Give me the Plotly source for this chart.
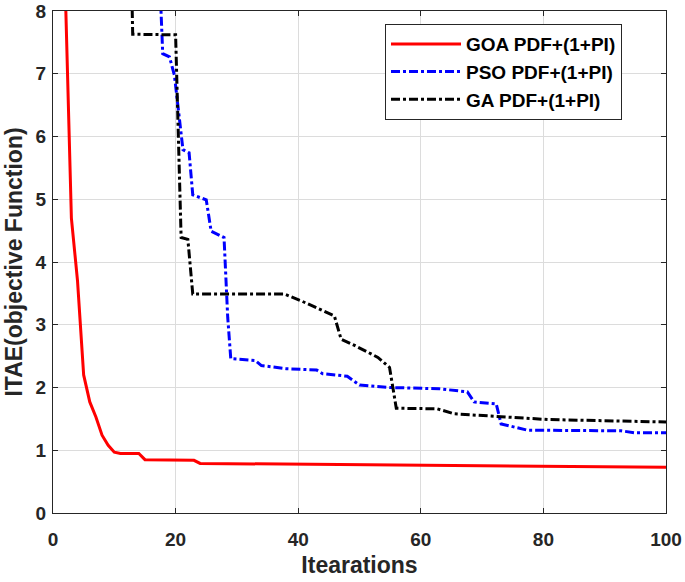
import plotly.graph_objects as go

# GOA PDF+(1+PI)
goa_x = [1, 2, 3, 4, 5, 6, 7, 8, 9, 10, 11, 12, 14, 15, 23, 24, 47, 70, 100]
goa_y = [12.0, 8.2, 4.7, 3.7, 2.2, 1.77, 1.53, 1.24, 1.08, 0.97, 0.95, 0.95, 0.95, 0.85, 0.84, 0.79, 0.77, 0.75, 0.73]

# PSO PDF+(1+PI)
pso_x = [1, 17, 17.9, 19, 19.8, 20.3, 21.2, 22.2, 22.8, 25, 25.8, 27.9, 28.5, 29, 33, 34, 38, 43, 44, 48, 50, 55, 63, 67.6, 68.7, 72.3, 73.1, 77.4, 92.7, 94.8, 100]
pso_y = [9.5, 9.5, 7.32, 7.27, 6.98, 6.56, 5.79, 5.74, 5.07, 4.99, 4.49, 4.39, 3.12, 2.46, 2.43, 2.35, 2.3, 2.28, 2.22, 2.18, 2.04, 2.0, 1.98, 1.93, 1.77, 1.74, 1.42, 1.32, 1.31, 1.28, 1.28]

# GA PDF+(1+PI)
ga_x = [1, 12.8, 13, 20, 20.9, 22, 22.8, 37.7, 40.5, 45.9, 47, 49.2, 53, 54.9, 56, 62.7, 65.5, 72.5, 80.7, 100]
ga_y = [8.6, 8.6, 7.63, 7.62, 4.39, 4.36, 3.49, 3.49, 3.38, 3.14, 2.77, 2.67, 2.48, 2.32, 1.67, 1.66, 1.58, 1.54, 1.49, 1.45]

x_ticks = [0, 20, 40, 60, 80, 100]
y_ticks = [0, 1, 2, 3, 4, 5, 6, 7, 8]

FONT = "Liberation Sans, Arial, sans-serif"
TXT = "#262626"

fig = go.Figure()
fig.add_trace(go.Scatter(x=goa_x, y=goa_y, mode="lines", name="GOA PDF+(1+PI)",
                         line=dict(color="#ff0000", width=3)))
fig.add_trace(go.Scatter(x=pso_x, y=pso_y, mode="lines", name="PSO PDF+(1+PI)",
                         line=dict(color="#0000ff", width=3, dash="dashdot")))
fig.add_trace(go.Scatter(x=ga_x, y=ga_y, mode="lines", name="GA PDF+(1+PI)",
                         line=dict(color="#000000", width=3, dash="dashdot")))

axis_common = dict(
    showline=True, linecolor=TXT, linewidth=1.3, mirror="ticks",
    ticks="inside", ticklen=5, tickcolor=TXT,
    showgrid=True, gridcolor="#dcdcdc", gridwidth=1,
    zeroline=False, automargin=False, ticklabeloverflow="allow",
    tickfont=dict(family=FONT, size=19, color=TXT, weight="bold"),
)

fig.update_layout(
    width=685, height=582,
    paper_bgcolor="white", plot_bgcolor="white",
    margin=dict(l=53, r=19, t=11, b=69),
    font=dict(family=FONT, color=TXT),
    xaxis=dict(range=[0, 100], tickvals=x_ticks, ticklabelstandoff=9,
               title=dict(text="Itearations", font=dict(family=FONT, size=23, color=TXT, weight="bold"), standoff=7),
               **axis_common),
    yaxis=dict(range=[0, 8], tickvals=y_ticks, ticklabelstandoff=2,
               title=dict(text="ITAE(objective Function)", font=dict(family=FONT, size=23, color=TXT, weight="bold"), standoff=6),
               **axis_common),
    legend=dict(x=0.5416, y=0.974, xanchor="left", yanchor="top",
                bgcolor="white", bordercolor=TXT, borderwidth=1,
                font=dict(family=FONT, size=19, color="#000000", weight="bold"),
                tracegroupgap=0, itemwidth=70),
    showlegend=True,
)

fig.write_html("out.html", config={"displayModeBar": False},
               post_script="document.body.style.margin='0';document.body.style.padding='0';")
